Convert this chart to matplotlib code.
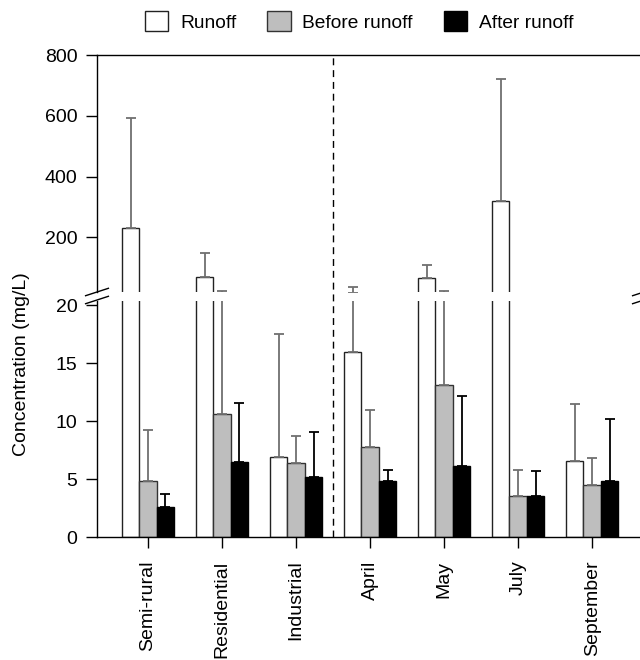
"""
Concentração por local e por mês: gráfico de barras com eixo y quebrado.
"""

import matplotlib
matplotlib.use('Agg')
import matplotlib.pyplot as plt
import numpy as np
from matplotlib.patches import Patch
from matplotlib.lines import Line2D

plt.rcParams['font.family'] = ['Liberation Sans', 'DejaVu Sans']
plt.rcParams['font.size'] = 14

# Dados (média e desvio para cima)
sites = ['Semi-rural', 'Residential', 'Industrial', 'April', 'May', 'July', 'September']
runoff = [230, 69, 6.9, 16.0, 67, 318, 6.6]
runoff_sd = [362, 81, 10.6, 19, 41, 402, 4.9]
before = [4.8, 10.6, 6.4, 7.8, 13.1, 3.5, 4.5]
before_sd = [4.4, 11.9, 2.3, 3.2, 10.9, 2.3, 2.3]
after = [2.6, 6.5, 5.2, 4.8, 6.1, 3.5, 4.8]
after_sd = [1.1, 5.1, 3.9, 1.0, 6.1, 2.2, 5.4]

series = [
    ('Runoff', runoff, runoff_sd, 'white', '#222222', '#707070'),
    ('Before runoff', before, before_sd, '#bebebe', '#333333', '#707070'),
    ('After runoff', after, after_sd, 'black', 'black', 'black'),
]

W, H = 640, 660
fig = plt.figure(figsize=(W / 100, H / 100), dpi=100)

left = 97 / W
width = (644 - 97) / W
ax_top = fig.add_axes([left, (H - 291.7) / H, width, (291.7 - 55) / H])
ax_bot = fig.add_axes([left, (H - 537) / H, width, (537 - 300.7) / H])

top_lim = (21, 800)
bot_lim = (0, 20.4)

x = np.arange(len(sites))
bw = 0.235
offsets = [-bw, 0, bw]

for ax, lim in ((ax_top, top_lim), (ax_bot, bot_lim)):
    for (label, vals, sd, fc, ec, errc), off in zip(series, offsets):
        vals = np.array(vals)
        sd = np.array(sd)
        ax.bar(x + off, vals, bw, color=fc, edgecolor=ec, linewidth=1.0, zorder=2)
        # só desenha as barras de erro que aparecem neste painel
        m = (vals + sd > lim[0]) & (vals < lim[1])
        ax.errorbar(x[m] + off, vals[m], yerr=[np.zeros(m.sum()), sd[m]], fmt='none',
                    ecolor=errc, elinewidth=1.3, capsize=3.5, capthick=1.3, zorder=3)
    ax.set_xlim(-0.69, 6.7)
    ax.set_ylim(*lim)
    ax.spines['right'].set_visible(False)
    ax.tick_params(axis='y', length=8, width=1, pad=6, labelsize=14)
    for s in ax.spines.values():
        s.set_linewidth(1.0)

ax_top.set_yticks([200, 400, 600, 800])
ax_top.spines['bottom'].set_visible(False)
ax_top.set_xticks([])

ax_bot.set_yticks([0, 5, 10, 15, 20])
ax_bot.spines['top'].set_visible(False)
ax_bot.set_xticks(x)
ax_bot.set_xticklabels(sites, rotation=90, fontsize=14)
ax_bot.tick_params(axis='x', length=8, width=1, pad=9)

# linha tracejada separando locais e meses
ax_bot.axvline(2.5, ymin=0, ymax=(537 - 55) / (537 - 300.7), color='black',
               linewidth=1.0, linestyle=(0, (5, 3.5)), clip_on=False, zorder=1)

# marcas de quebra do eixo
def break_mark(px, py):
    dx, dy = 11.4, 3.7
    fig.add_artist(Line2D([(px - dx) / W, (px + dx) / W],
                          [(H - py - dy) / H, (H - py + dy) / H],
                          color='black', linewidth=1.0))

for px in (97, 644):
    break_mark(px, 292)
    break_mark(px, 300)

fig.text(22 / W, 296 / H, 'Concentration (mg/L)', rotation=90,
         ha='center', va='center', fontsize=14)

handles = [Patch(facecolor=fc, edgecolor=ec, linewidth=1.0, label=label)
           for label, _, _, fc, ec, _ in series]
fig.legend(handles=handles, loc='center', bbox_to_anchor=(359 / W, 1 - 21.5 / H),
           ncol=3, frameon=False, fontsize=13.8, handlelength=1.25,
           handleheight=1.25, handletextpad=0.6, columnspacing=1.6)

fig.savefig('out.png', dpi=100)
